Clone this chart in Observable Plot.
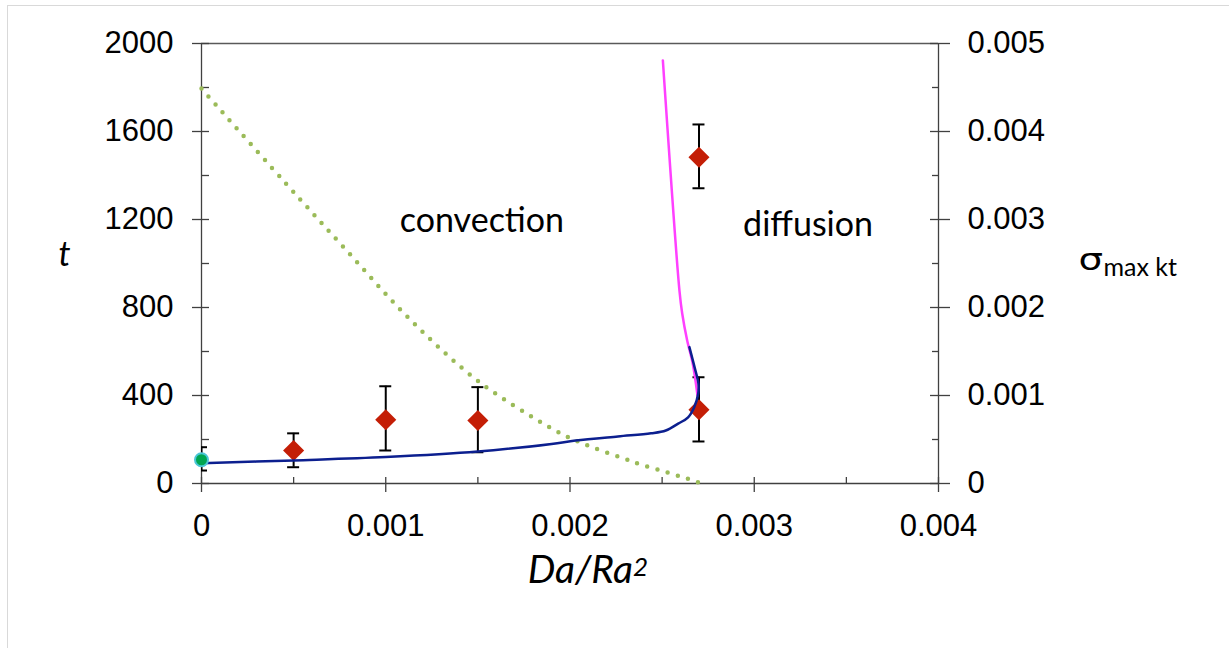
<!DOCTYPE html>
<html><head><meta charset="utf-8">
<script src="https://cdn.jsdelivr.net/npm/d3@7"></script>
<script src="https://cdn.jsdelivr.net/npm/@observablehq/plot@0.6"></script>
<style>
html,body{margin:0;padding:0;background:#fff;}
#wrap{position:relative;width:1229px;height:648px;overflow:hidden;}
#border{position:absolute;left:7px;top:5px;right:-2px;bottom:-2px;border:1px solid #d9d9d9;pointer-events:none;}
#chart svg{display:block;}
</style></head><body>
<div id="wrap"><div id="chart"></div><div id="border"></div></div>
<script>
// Axis ticks
const xTickValues = [0, 0.001, 0.002, 0.003, 0.004];
const xTickLabels = ["0", "0.001", "0.002", "0.003", "0.004"];
const xMinorTicks = [0.0005, 0.0015, 0.0025, 0.0035];
const tTickValues = [0, 400, 800, 1200, 1600, 2000];
const tTickLabels = ["0", "400", "800", "1200", "1600", "2000"];
const tMinorTicks = [200, 600, 1000, 1400, 1800];
const sigmaTickLabels = ["0", "0.001", "0.002", "0.003", "0.004", "0.005"];

// Experimental points (red diamonds) with error bars
const expX  = [0.0005, 0.001, 0.0015, 0.0027, 0.0027];
const expT  = [150, 290, 286, 335, 1483];
const expLo = [74, 150, 142, 191, 1342];
const expHi = [228, 442, 438, 483, 1632];

// Reference point at Da/Ra^2 = 0
const refX  = [0];
const refT  = [108];
const refLo = [59];
const refHi = [165];

// Blue curve (t)
const blueX = [0, 0.0005, 0.001, 0.0015, 0.0019, 0.00203, 0.00226, 0.00244, 0.00252, 0.002587, 0.002641, 0.002674, 0.002696, 0.002697, 0.002676, 0.002648];
const blueT = [92, 105, 120, 145, 180, 195, 214, 228, 241, 272, 301, 347, 409, 454, 529, 620];

// Magenta curve
const magX = [0.002504, 0.002594, 0.002609, 0.002636, 0.002665, 0.002681, 0.002692];
const magT = [1923, 877, 773, 650, 550, 468, 400];

// Green dotted curve (sigma max kt)
const greenX = [0, 0.000447, 0.000779, 0.001123, 0.001498, 0.001888, 0.002033, 0.002348, 0.002667, 0.00271];
const greenT = [1795, 1374, 1067, 753, 468, 256, 195, 97, 14, 0];

const exp = expX.map((x, i) => ({x, t: expT[i], lo: expLo[i], hi: expHi[i]}));
const ref = refX.map((x, i) => ({x, t: refT[i], lo: refLo[i], hi: refHi[i]}));
const bars = exp.concat(ref);
const blue = blueX.map((x, i) => ({x, t: blueT[i]}));
const mag = magX.map((x, i) => ({x, t: magT[i]}));
const green = greenX.map((x, i) => ({x, t: greenT[i]}));

const axisColor = "#404040";
const tickFont = 31;
const calibri = "Lato, 'Open Sans', sans-serif";

const chart = Plot.plot({
  width: 1229,
  height: 648,
  marginLeft: 201,
  marginRight: 291,
  marginTop: 43,
  marginBottom: 165,
  x: {domain: [xTickValues[0], xTickValues[xTickValues.length - 1]]},
  y: {domain: [tTickValues[0], tTickValues[tTickValues.length - 1]]},
  style: {fontFamily: "'Liberation Sans', Arial, sans-serif", fontSize: tickFont + "px", color: "#000", background: "transparent", overflow: "visible"},
  marks: [
    // frame lines
    Plot.ruleY([tTickValues[tTickValues.length - 1]], {stroke: "#595959", strokeWidth: 1.3}),
    Plot.ruleY([tTickValues[0]], {stroke: axisColor, strokeWidth: 1.3}),
    Plot.ruleX([xTickValues[0], xTickValues[xTickValues.length - 1]], {stroke: axisColor, strokeWidth: 1.3}),
    // left axis ticks
    Plot.axisY(tTickValues, {anchor: "left", tickSize: 17, dx: 8, fill: "none", label: null, stroke: axisColor, strokeWidth: 1.3}),
    Plot.axisY(tMinorTicks, {anchor: "left", tickSize: 8, dx: 8, fill: "none", label: null, stroke: axisColor, strokeWidth: 1.3}),
    Plot.axisY(tTickValues, {anchor: "left", tickSize: 0, tickPadding: 28, label: null, tickFormat: d => tTickLabels[tTickValues.indexOf(d)]}),
    // right axis
    Plot.axisY(tTickValues, {anchor: "right", tickSize: 20, dx: -9, fill: "none", label: null, stroke: axisColor, strokeWidth: 1.3}),
    Plot.axisY(tMinorTicks, {anchor: "right", tickSize: 7, dx: -7, fill: "none", label: null, stroke: axisColor, strokeWidth: 1.3}),
    Plot.axisY(tTickValues, {anchor: "right", tickSize: 0, tickPadding: 29, label: null, tickFormat: d => sigmaTickLabels[tTickValues.indexOf(d)]}),
    // bottom axis
    Plot.axisX(xTickValues, {anchor: "bottom", tickSize: 15, dy: -6, fill: "none", label: null, stroke: axisColor, strokeWidth: 1.3}),
    Plot.axisX(xMinorTicks, {anchor: "bottom", tickSize: 6, dy: -6, fill: "none", label: null, stroke: axisColor, strokeWidth: 1.3}),
    Plot.axisX(xTickValues, {anchor: "bottom", tickSize: 0, tickPadding: 30, label: null, tickFormat: d => xTickLabels[xTickValues.indexOf(d)]}),
    // error bars
    Plot.ruleX(bars, {x: "x", y1: "lo", y2: "hi", stroke: "#000", strokeWidth: 2, clip: true}),
    Plot.ruleY(bars, {x1: "x", x2: "x", y: "hi", insetLeft: -6, insetRight: -6, stroke: "#000", strokeWidth: 2, clip: true}),
    Plot.ruleY(bars, {x1: "x", x2: "x", y: "lo", insetLeft: -6, insetRight: -6, stroke: "#000", strokeWidth: 2, clip: true}),
    // diamonds
    Plot.dot(exp, {x: "x", y: "t", symbol: "diamond2", r: 9.5, fill: "#c41e06", stroke: "none"}),
    // curves
    Plot.line(green, {x: "x", y: "t", stroke: "#9bbb59", strokeWidth: 4.5, strokeDasharray: "0 10.6", strokeLinecap: "round", curve: "catmull-rom"}),
    Plot.line(mag, {x: "x", y: "t", stroke: "#ff40ff", strokeWidth: 2.5, curve: "catmull-rom"}),
    Plot.line(blue, {x: "x", y: "t", stroke: "#0c1f8f", strokeWidth: 2.5, curve: "catmull-rom"}),
    // reference dot
    Plot.dot(ref, {x: "x", y: "t", r: 6.5, fill: "#00a651", stroke: "#4bc6d6", strokeWidth: 2}),
    // region labels
    Plot.text(["convection"], {x: 0.001522, y: 1141, text: d => d, fontFamily: calibri, fontSize: 34, lineAnchor: "bottom", textAnchor: "middle"}),
    Plot.text(["diffusion"], {x: 0.003292, y: 1127, text: d => d, fontFamily: calibri, fontSize: 34, lineAnchor: "bottom", textAnchor: "middle"}),
    // axis titles
    Plot.text(["t"], {frameAnchor: "left", dx: -143, dy: 2, text: d => d, fontFamily: calibri, fontStyle: "italic", fontSize: 34, lineAnchor: "bottom", textAnchor: "start"}),
    Plot.text(["Da/Ra"], {frameAnchor: "bottom", dx: 63, dy: 99, text: d => d, fontFamily: calibri, fontStyle: "italic", fontSize: 39, lineAnchor: "bottom", textAnchor: "end"}),
    Plot.text(["2"], {frameAnchor: "bottom", dx: 63, dy: 92, text: d => d, fontFamily: calibri, fontStyle: "italic", fontSize: 26, lineAnchor: "bottom", textAnchor: "start"}),
    Plot.text(["σ"], {frameAnchor: "right", dx: 140, dy: 6, text: d => d, fontFamily: "'DejaVu Sans', sans-serif", fontSize: 31, lineAnchor: "bottom", textAnchor: "start"}),
    Plot.text(["max kt"], {frameAnchor: "right", dx: 165, dy: 12, text: d => d, fontFamily: calibri, fontSize: 25, lineAnchor: "bottom", textAnchor: "start"})
  ]
});
// widen the sigma glyph (Symbol-font look)
chart.querySelectorAll("text").forEach(el => {
  if (el.textContent === "σ") {
    const t = el.getAttribute("transform") || "";
    const x = el.getAttribute("x"), y = el.getAttribute("y");
    if (x !== null || y !== null) {
      el.setAttribute("transform", `${t} translate(${x || 0},${y || 0}) scale(1.25,1)`);
      el.removeAttribute("x"); el.removeAttribute("y");
    } else {
      el.setAttribute("transform", `${t} scale(1.25,1)`);
    }
  }
});
document.getElementById("chart").appendChild(chart);
</script>
</body></html>
